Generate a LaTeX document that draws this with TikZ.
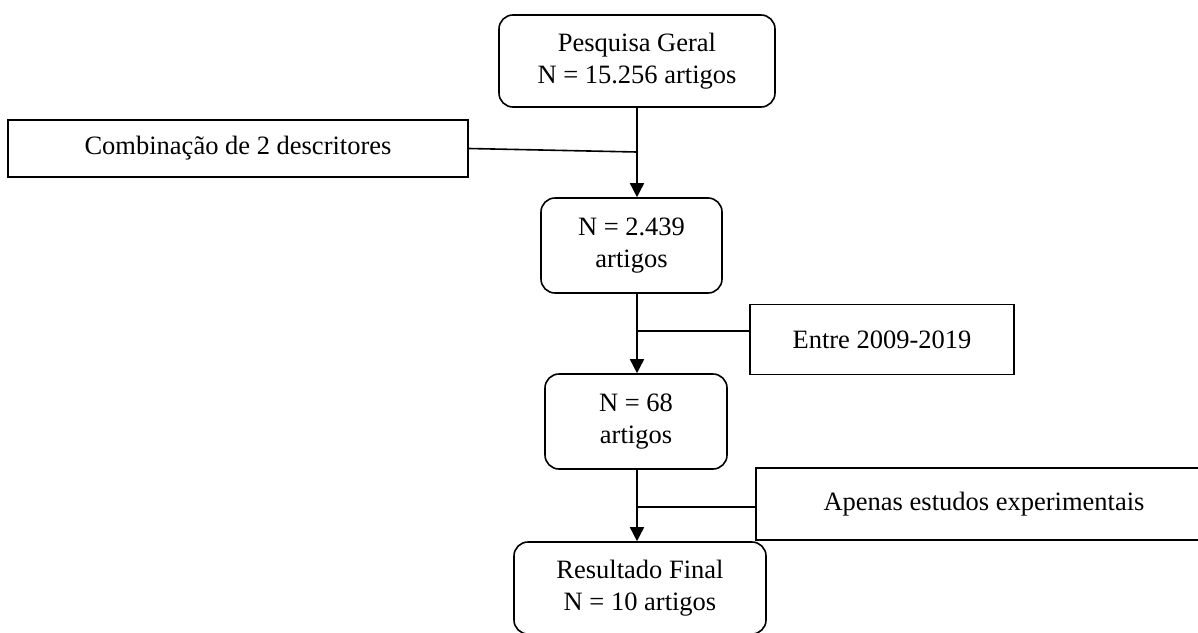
\documentclass[tikz,border=0pt]{standalone}
\usepackage{fontspec}
\setmainfont{Liberation Serif}
\usetikzlibrary{arrows.meta}
\begin{document}
\begin{tikzpicture}[x=1pt,y=-1pt,
  box/.style={draw, line width=1.6pt, align=center, inner sep=0pt, font=\fontsize{26.5pt}{32pt}\selectfont},
  rbox/.style={box, rounded corners=14pt},
  arr/.style={line width=1.6pt, -{Triangle[length=14pt,width=14pt]}},
  ln/.style={line width=1.6pt}]
\useasboundingbox (0,0) rectangle (1198,632);
\fill[white] (0,0) rectangle (1198,632);
\node[rbox, minimum width=276pt, minimum height=92pt] (pg) at (637,61) {Pesquisa Geral\\N = 15.256 artigos};
\node[box, minimum width=460pt, minimum height=57pt] (cb) at (238,148.5) {Combinação de 2 descritores};
\node[rbox, minimum width=181pt, minimum height=95pt] (n1) at (631.5,245.5) {N = 2.439\\artigos};
\node[box, line width=1.3pt, minimum width=264pt, minimum height=70pt] (en) at (882,339.5) {Entre 2009-2019};
\node[rbox, minimum width=182pt, minimum height=95pt] (n2) at (636,421.5) {N = 68\\artigos};
\node[box, minimum width=456pt, minimum height=72pt] (ap) at (984,504) {Apenas estudos experimentais};
\node[rbox, minimum width=252pt, minimum height=92pt] (rf) at (640,588) {Resultado Final\\N = 10 artigos};
\coordinate (j1) at (637,152);
\coordinate (j2) at (637,331);
\coordinate (j3) at (637,507);
\draw[arr] (pg.south) -- (pg.south |- n1.north);
\draw[ln] (cb.east) -- (j1);
\draw[arr] (pg.south |- n1.south) -- (pg.south |- n2.north);
\draw[ln] (j2) -- (j2 -| en.west);
\draw[arr] (pg.south |- n2.south) -- (pg.south |- rf.north);
\draw[ln] (j3) -- (j3 -| ap.west);
\end{tikzpicture}
\end{document}
